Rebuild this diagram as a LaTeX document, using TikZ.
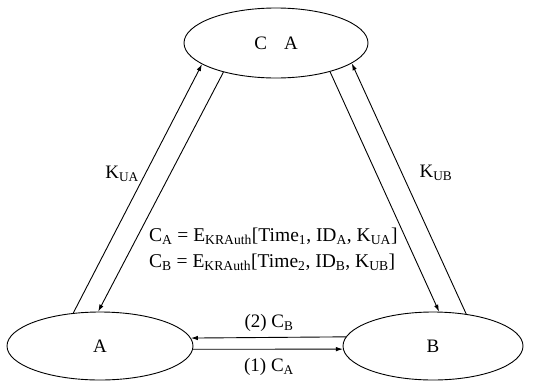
\documentclass[tikz,border=0pt]{standalone}
\usepackage{fontspec}
\setmainfont{Liberation Serif}
\usetikzlibrary{shapes.geometric,arrows.meta}
\newcommand{\sbx}[1]{\textsubscript{#1}}
\begin{document}
\begin{tikzpicture}[x=1pt,y=-1pt,
  every node/.style={font=\fontsize{19}{24}\selectfont},
  party/.style={draw,ellipse,line width=0.9pt,inner sep=0pt},
  msg/.style={line width=0.9pt,-{Latex[length=7pt,width=4.5pt]}}]
\useasboundingbox (0,0) rectangle (540,381);
% the three parties
\node[party,minimum width=184pt,minimum height=70pt] (ca) at (276,43) {C\hspace{0.9em}A};
\node[party,minimum width=186pt,minimum height=68pt] (a) at (100,346) {A};
\node[party,minimum width=180pt,minimum height=68pt] (b) at (433,346) {B};
% A <-> CA
\draw[msg] (a.129.7) -- (ca.196.3);
\draw[msg] (ca.209.7) -- (a.93.4);
% B <-> CA
\draw[msg] (ca.332.4) -- (b.80);
\draw[msg] (b.44.8) -- (ca.345.5);
% A <-> B
\draw[msg] (b.174.3) -- (a.5.7);
\draw[msg] (a.-2) -- (b.182);
% labels
\node (kua) at (122,174) {K\sbx{UA}};
\node (kub) at (436,173) {K\sbx{UB}};
\node (l2) at (269,323) {(2) C\sbx{B}};
\node (l1) at (269,367) {(1) C\sbx{A}};
\node[anchor=west,align=left,inner sep=0pt,font=\fontsize{19.5}{26}\selectfont] (certs) at (149,249)
  {C\sbx{A} = E\sbx{KRAuth}[Time\sbx{1}, ID\sbx{A}, K\sbx{UA}]\\
   C\sbx{B} = E\sbx{KRAuth}[Time\sbx{2}, ID\sbx{B}, K\sbx{UB}]};
\end{tikzpicture}
\end{document}
